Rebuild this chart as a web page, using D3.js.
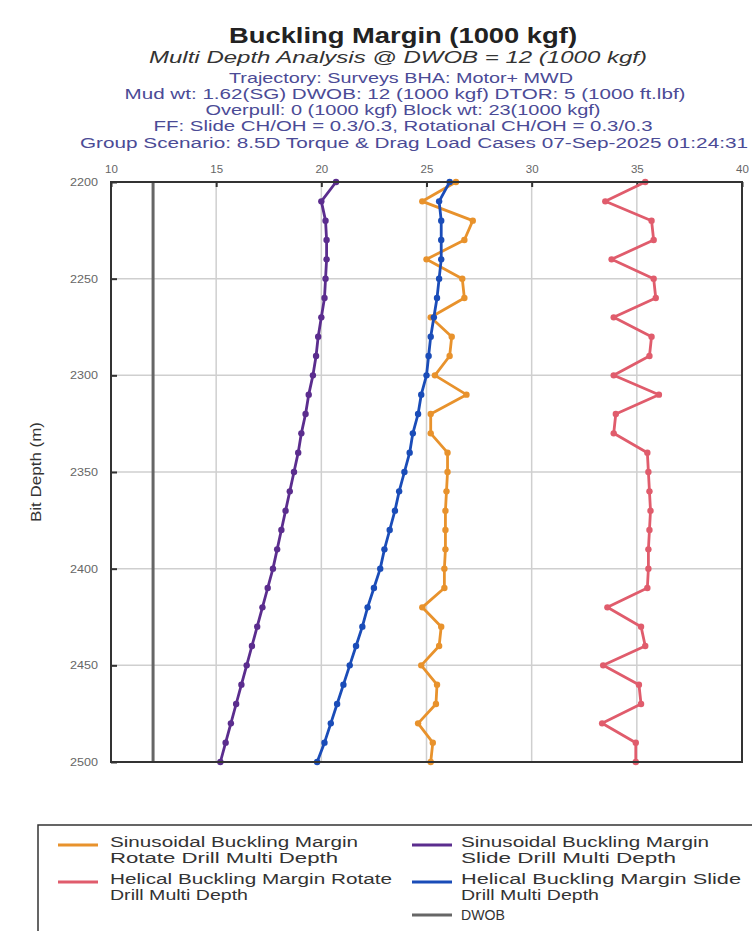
<!DOCTYPE html>
<html>
<head>
<meta charset="utf-8">
<script src="https://cdn.jsdelivr.net/npm/d3@7"></script>
<style>
  html, body { margin: 0; padding: 0; background: #fff; }
  svg { display: block; }
  text { font-family: "Liberation Sans", Arial, sans-serif; }
</style>
</head>
<body>
<svg id="chart" width="752" height="931"></svg>
<script>
// ---------- data ----------
const depths = [2200, 2210, 2220, 2230, 2240, 2250, 2260, 2270, 2280, 2290, 2300,
                2310, 2320, 2330, 2340, 2350, 2360, 2370, 2380, 2390, 2400,
                2410, 2420, 2430, 2440, 2450, 2460, 2470, 2480, 2490, 2500];

const sinRotate = [26.4, 24.8, 27.2, 26.8, 25.0, 26.7, 26.8, 25.2, 26.2, 26.1, 25.4,
                   26.9, 25.2, 25.2, 26.0, 26.0, 25.95, 25.9, 25.9, 25.9, 25.85,
                   25.85, 24.8, 25.7, 25.6, 24.75, 25.5, 25.45, 24.6, 25.3, 25.2];

const helRotate = [35.4, 33.5, 35.7, 35.8, 33.8, 35.8, 35.9, 33.9, 35.7, 35.6, 33.9,
                   36.05, 34.0, 33.9, 35.5, 35.55, 35.6, 35.65, 35.6, 35.55, 35.55,
                   35.5, 33.6, 35.2, 35.4, 33.4, 35.1, 35.2, 33.35, 34.95, 34.95];

const sinSlide = [20.7, 20.0, 20.2, 20.25, 20.25, 20.2, 20.15, 20.0, 19.85, 19.75, 19.6,
                  19.4, 19.25, 19.05, 18.9, 18.7, 18.5, 18.3, 18.1, 17.9, 17.7,
                  17.45, 17.2, 16.95, 16.7, 16.45, 16.2, 15.95, 15.7, 15.45, 15.2];

const helSlide = [26.1, 25.6, 25.7, 25.7, 25.7, 25.6, 25.5, 25.35, 25.2, 25.1, 25.0,
                  24.75, 24.6, 24.35, 24.2, 23.95, 23.7, 23.5, 23.25, 23.0, 22.8,
                  22.5, 22.2, 21.95, 21.65, 21.35, 21.05, 20.75, 20.45, 20.15, 19.8];

const dwob = 12;

const xTicks = [10, 15, 20, 25, 30, 35, 40];
const yTicks = [2200, 2250, 2300, 2350, 2400, 2450, 2500];

const titleText = "Buckling Margin (1000 kgf)";
const subtitleText = "Multi Depth Analysis @ DWOB = 12 (1000 kgf)";
const infoLines = [
  "Trajectory: Surveys BHA: Motor+ MWD",
  "Mud wt: 1.62(SG) DWOB: 12 (1000 kgf) DTOR: 5 (1000 ft.lbf)",
  "Overpull: 0 (1000 kgf) Block wt: 23(1000 kgf)",
  "FF: Slide CH/OH = 0.3/0.3, Rotational CH/OH = 0.3/0.3",
  "Group Scenario: 8.5D Torque & Drag Load Cases 07-Sep-2025 01:24:31"
];
const yLabel = "Bit Depth (m)";

const seriesNames = [
  ["Sinusoidal Buckling Margin", "Rotate Drill Multi Depth"],
  ["Helical Buckling Margin Rotate", "Drill Multi Depth"],
  ["Sinusoidal Buckling Margin", "Slide Drill Multi Depth"],
  ["Helical Buckling Margin Slide", "Drill Multi Depth"],
  ["DWOB"]
];
const seriesColors = ["#e8922c", "#e05c6c", "#5b2d8e", "#1a4cb8", "#666666"];

// ---------- layout ----------
const svg = d3.select("#chart");
const x = d3.scaleLinear().domain([10, 40]).range([111, 742]);
const y = d3.scaleLinear().domain([2200, 2500]).range([182, 762]);

// Titles
svg.append("text").attr("x", 403).attr("y", 43).attr("text-anchor", "middle")
  .attr("font-size", 22).attr("font-weight", "bold").attr("fill", "#222")
  .attr("textLength", 348).attr("lengthAdjust", "spacingAndGlyphs")
  .text(titleText);
svg.append("text").attr("x", 398).attr("y", 63).attr("text-anchor", "middle")
  .attr("font-size", 16).attr("font-style", "italic").attr("fill", "#333")
  .attr("textLength", 498).attr("lengthAdjust", "spacingAndGlyphs")
  .text(subtitleText);
const infoY = [83, 99, 115, 131, 148];
const infoW = [344, 561, 395, 499, 668];
const infoCx = [401, 405, 403, 403, 414];
infoLines.forEach((t, i) => {
  svg.append("text").attr("x", infoCx[i]).attr("y", infoY[i]).attr("text-anchor", "middle")
    .attr("font-size", 14).attr("fill", "#4b4b96")
    .attr("textLength", infoW[i]).attr("lengthAdjust", "spacingAndGlyphs")
    .text(t);
});

// Grid
const g = svg.append("g");
g.selectAll(".vg").data(xTicks.slice(1, -1)).join("line")
  .attr("x1", d => x(d)).attr("x2", d => x(d))
  .attr("y1", y(2200)).attr("y2", y(2500))
  .attr("stroke", "#cfcfcf").attr("stroke-width", 1.5);
g.selectAll(".hg").data(yTicks.slice(1, -1)).join("line")
  .attr("x1", x(10)).attr("x2", x(40))
  .attr("y1", d => y(d)).attr("y2", d => y(d))
  .attr("stroke", "#cfcfcf").attr("stroke-width", 1.5);

// Axes (top and left) via d3 axis
const xAxis = d3.axisTop(x).tickValues(xTicks).tickSize(-5).tickPadding(9).tickFormat(d3.format("d"));
const xg = svg.append("g").attr("transform", `translate(0,${y(2200)})`).call(xAxis);
xg.select(".domain").remove();
xg.selectAll(".tick line").attr("stroke", "#333").attr("stroke-width", 2);
xg.selectAll(".tick text").attr("font-size", 11.5).attr("fill", "#666")
  .attr("font-family", "Liberation Sans, Arial, sans-serif");

const yAxis = d3.axisLeft(y).tickValues(yTicks).tickSize(-6).tickPadding(13).tickFormat(d3.format("d"));
const yg = svg.append("g").attr("transform", `translate(${x(10)},0)`).call(yAxis);
yg.select(".domain").remove();
yg.selectAll(".tick line").attr("stroke", "#333").attr("stroke-width", 2);
yg.selectAll(".tick text").attr("font-size", 11).attr("fill", "#666")
  .attr("font-family", "Liberation Sans, Arial, sans-serif")
  .attr("textLength", 28).attr("lengthAdjust", "spacingAndGlyphs");

svg.append("text").attr("transform", `translate(41,${(y(2200) + y(2500)) / 2}) rotate(-90)`)
  .attr("text-anchor", "middle").attr("font-size", 14.5).attr("fill", "#333")
  .attr("textLength", 100).attr("lengthAdjust", "spacingAndGlyphs")
  .text(yLabel);

// DWOB line
svg.append("line").attr("x1", x(dwob)).attr("x2", x(dwob))
  .attr("y1", y(2200)).attr("y2", y(2500))
  .attr("stroke", seriesColors[4]).attr("stroke-width", 3);

// Series
const series = [sinRotate, helRotate, sinSlide, helSlide];
const line = d3.line().x(d => x(d[0])).y(d => y(d[1]));
series.forEach((vals, i) => {
  const pts = depths.map((dp, k) => [vals[k], dp]);
  svg.append("path").datum(pts).attr("d", line)
    .attr("fill", "none").attr("stroke", seriesColors[i]).attr("stroke-width", 2.8)
    .attr("stroke-linejoin", "round");
  svg.append("g").selectAll("circle").data(pts).join("circle")
    .attr("cx", d => x(d[0])).attr("cy", d => y(d[1])).attr("r", 3.2)
    .attr("fill", seriesColors[i]);
});

// Frame
svg.append("rect").attr("x", x(10)).attr("y", y(2200))
  .attr("width", x(40) - x(10)).attr("height", y(2500) - y(2200))
  .attr("fill", "none").attr("stroke", "#333").attr("stroke-width", 2);

// Legend
svg.append("rect").attr("x", 38).attr("y", 825).attr("width", 720).attr("height", 120)
  .attr("fill", "#fff").attr("stroke", "#333").attr("stroke-width", 1.5);
const legPos = [
  {sx: 58, tx: 110, y: 842},
  {sx: 58, tx: 110, y: 879},
  {sx: 412, tx: 461, y: 842},
  {sx: 412, tx: 461, y: 879},
  {sx: 412, tx: 461, y: 915}
];
const legW = [[248, 228], [282, 138], [248, 215], [280, 138], [44]];
seriesNames.forEach((lines, i) => {
  const p = legPos[i];
  svg.append("line").attr("x1", p.sx).attr("x2", p.sx + 40)
    .attr("y1", p.y + (lines.length > 1 ? 3 : 0)).attr("y2", p.y + (lines.length > 1 ? 3 : 0))
    .attr("stroke", seriesColors[i]).attr("stroke-width", 3);
  lines.forEach((t, j) => {
    svg.append("text").attr("x", p.tx).attr("y", p.y + 5 + j * 15.5)
      .attr("font-size", 14).attr("fill", "#333")
      .attr("textLength", legW[i][j]).attr("lengthAdjust", "spacingAndGlyphs")
      .text(t);
  });
});
</script>
</body>
</html>
